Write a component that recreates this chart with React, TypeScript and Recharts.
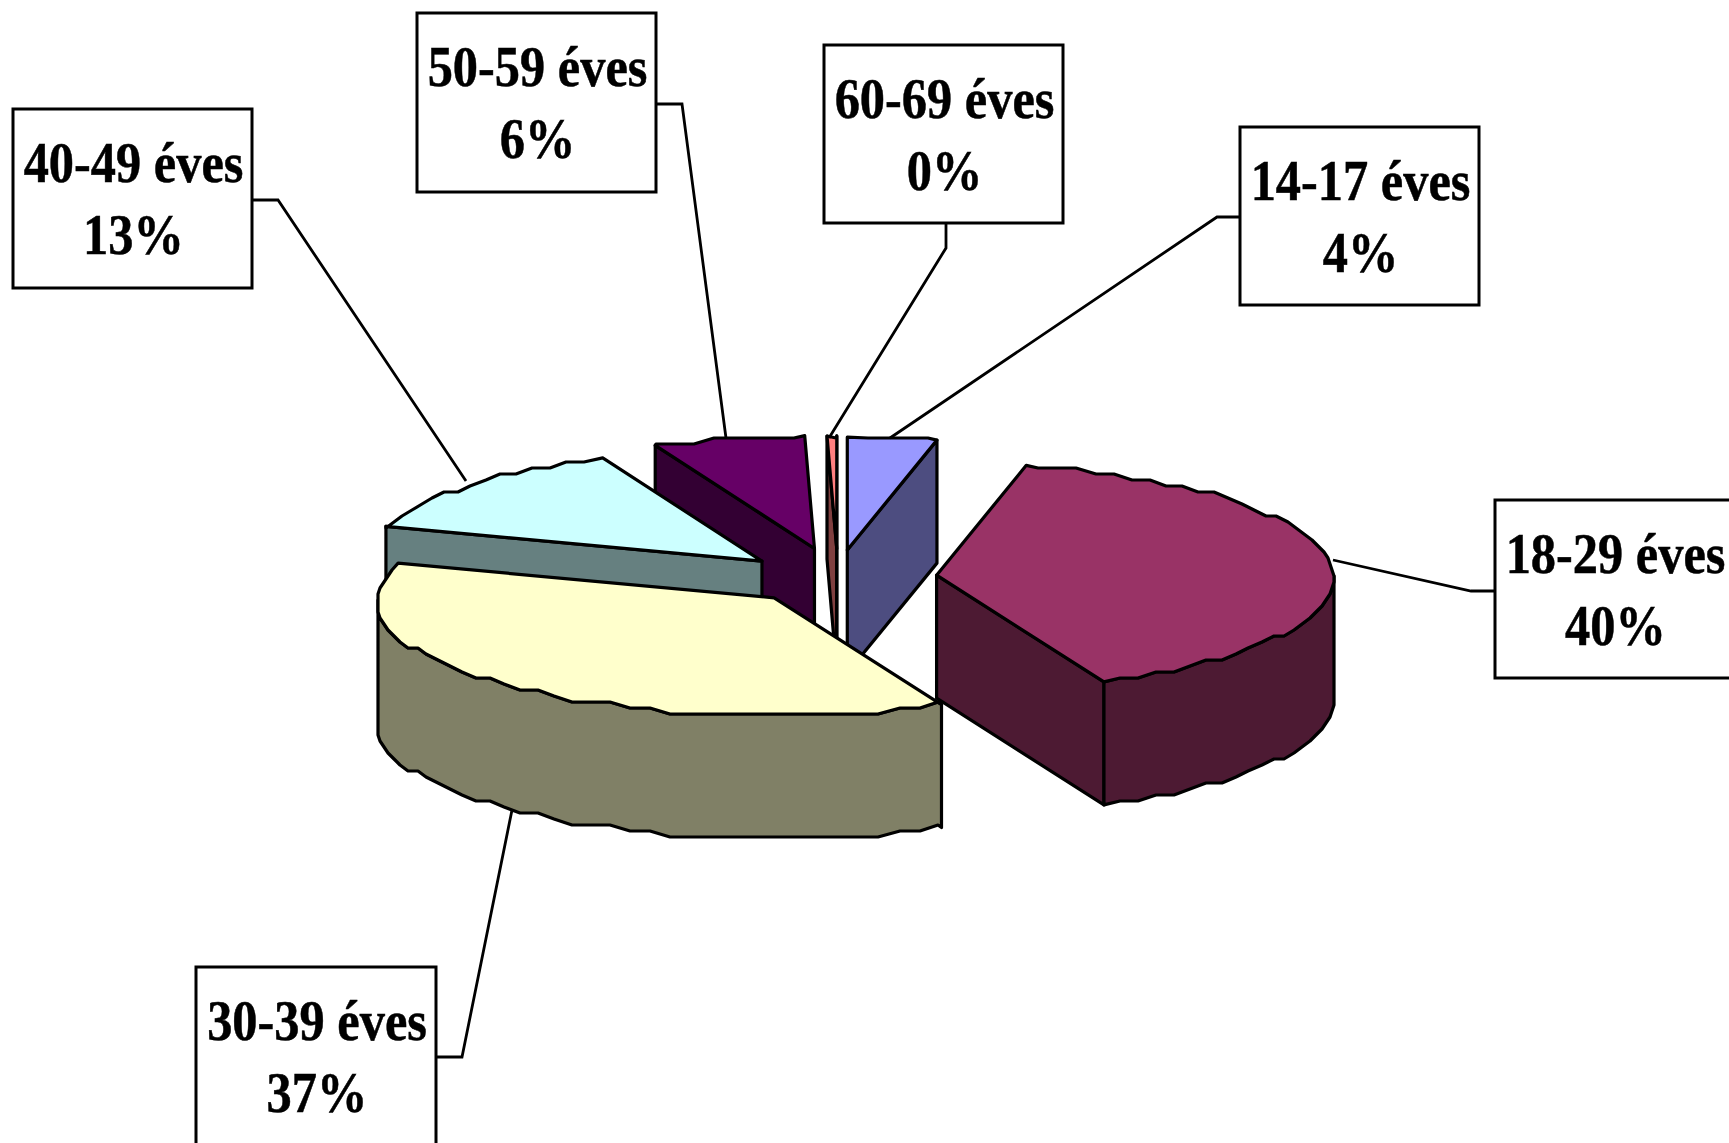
import { PieChart, Pie } from "recharts";

const ageGroups = ["14-17 éves", "18-29 éves", "30-39 éves", "40-49 éves", "50-59 éves", "60-69 éves"];
const shares = [3.7, 39.51, 36.7, 13.4, 6.3, 0.4];

const topColors = ["#9999ff", "#993366", "#ffffcc", "#ccffff", "#660066", "#ff8080"];
const sideColors = ["#4d4d80", "#4d1a33", "#808066", "#668080", "#330033", "#804040"];

// painter's order, back slices first
const drawOrder = [4, 5, 0, 3, 1, 2];
// small corrections on top of the radial explode
const nudgeX = [-2, 0, 3, -3, -2, 0];
const nudgeY = [0, 0, -2, 2, -2, -1];

const labelBoxes = [
  { x: 1240, y: 127, w: 239, h: 178, leader: "1240,217 1217,217 890,438" },
  { x: 1495, y: 500, w: 239, h: 178, leader: "1495,591 1471,591 1333,560" },
  { x: 196, y: 967, w: 240, h: 180, leader: "436,1057 462,1057 512,810" },
  { x: 13, y: 109, w: 239, h: 179, leader: "252,200 278,200 466,481" },
  { x: 417, y: 13, w: 239, h: 179, leader: "656,104 682,104 726,438" },
  { x: 824, y: 45, w: 239, h: 178, leader: "946,223 946,248 829,438" },
];

const chartData = ageGroups.map((name, i) => ({ name, value: shares[i] }));

const TILT = 0.29;
const PERSPECTIVE = 0.02;
const DEPTH = 123;
const EXPLODE = 0.25;
const STEP = 3;
const GRID_X = 2;
const GRID_Y = 6;

function project(deg: number, r: number) {
  const t = (deg * Math.PI) / 180;
  const s = 1 - PERSPECTIVE * Math.cos(t);
  return { x: r * Math.sin(t) * s, y: -r * TILT * Math.cos(t) * s };
}

function Slice3D(props: any) {
  const { cx, cy, outerRadius, startAngle, endAngle, index } = props;
  // recharts angles run counter-clockwise from 3 o'clock, here clockwise from 12
  const from = 90 - startAngle;
  const to = 90 - endAngle;
  const off = project((from + to) / 2, outerRadius);
  const ax = cx + off.x * EXPLODE + nudgeX[index];
  const ay = cy + off.y * EXPLODE + nudgeY[index];

  const pointAt = (deg: number) => {
    const p = project(deg, outerRadius);
    const x = ax + p.x;
    const y = ay + p.y;
    if (deg === from || deg === to) return { x, y };
    return { x: Math.round(x / GRID_X) * GRID_X, y: Math.round(y / GRID_Y) * GRID_Y };
  };
  const arc = (a: number, b: number) => {
    const list = [a];
    for (let d = Math.ceil(a / STEP + 0.01) * STEP; d < b; d += STEP) list.push(d);
    list.push(b);
    return list.map(pointAt);
  };
  const toPath = (pts: { x: number; y: number }[]) => pts.map((p) => `${p.x},${p.y}`).join(" ");
  const lowered = (pts: { x: number; y: number }[]) => pts.map((p) => ({ x: p.x, y: p.y + DEPTH })).reverse();

  const apex = { x: ax, y: ay };
  const common = { stroke: "#000", strokeWidth: 3.2, strokeLinejoin: "round" as const };
  const sf = Math.sin((from * Math.PI) / 180);
  const st = Math.sin((to * Math.PI) / 180);
  const wallFrom = Math.max(from, 90);
  const wallTo = Math.min(to, 270);

  return (
    <g>
      {sf < 0 && (
        <polygon points={toPath([apex, pointAt(from), ...lowered([apex, pointAt(from)])])} fill={sideColors[index]} {...common} />
      )}
      {st > 0 && (
        <polygon points={toPath([apex, pointAt(to), ...lowered([apex, pointAt(to)])])} fill={sideColors[index]} {...common} />
      )}
      {wallFrom < wallTo && (
        <polygon
          points={toPath([...arc(wallFrom, wallTo), ...lowered(arc(wallFrom, wallTo))])}
          fill={sideColors[index]}
          {...common}
        />
      )}
      <polygon points={toPath([apex, ...arc(from, to)])} fill={topColors[index]} {...common} />
    </g>
  );
}

function LabelBox(props: any) {
  const { index, percent } = props;
  const box = labelBoxes[index];
  const mid = box.x + box.w / 2 + 1;
  const textProps = {
    x: 0,
    y: 0,
    textAnchor: "middle" as const,
    fontFamily: "Liberation Serif",
    fontWeight: "bold",
    fontSize: 56,
    fill: "#000",
    stroke: "#000",
    strokeWidth: 0.5,
  };
  return (
    <g>
      <polyline points={box.leader} fill="none" stroke="#000" strokeWidth={2.8} />
      <rect x={box.x} y={box.y} width={box.w} height={box.h} fill="#fff" stroke="#000" strokeWidth={3} />
      <text {...textProps} transform={`translate(${mid} ${box.y + 73}) scale(0.9 1)`}>
        {ageGroups[index]}
      </text>
      <text {...textProps} transform={`translate(${mid} ${box.y + 145}) scale(0.9 1)`}>
        {Math.round(percent * 100)}%
      </text>
    </g>
  );
}

export default function App() {
  return (
    <div style={{ position: "absolute", left: 0, top: 0, width: 1729, height: 1143, overflow: "hidden", background: "#fff" }}>
      <PieChart width={1729} height={1143} margin={{ top: 0, right: 0, bottom: 0, left: 0 }}>
        {drawOrder.map((slice) => (
          <Pie
            key={slice}
            data={chartData}
            dataKey="value"
            nameKey="name"
            cx={838}
            cy={578}
            innerRadius={0}
            outerRadius={397}
            startAngle={90}
            endAngle={-270}
            isAnimationActive={false}
            labelLine={false}
            shape={(p: any) => (p.index === slice ? <Slice3D {...p} /> : <g />)}
            label={(p: any) => (p.index === slice ? <LabelBox {...p} /> : <g />)}
          />
        ))}
      </PieChart>
    </div>
  );
}
